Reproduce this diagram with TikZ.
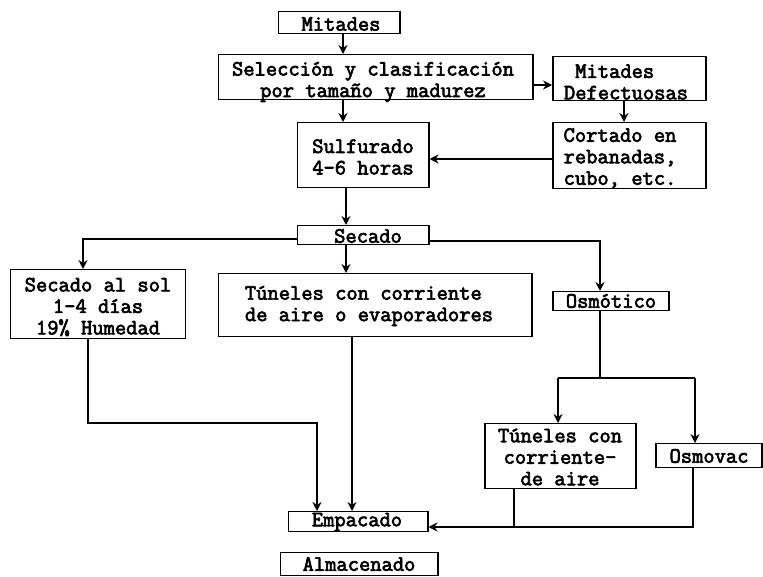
\documentclass[tikz,border=0pt]{standalone}
\usepackage{fontspec}
\newfontfamily\typewriter[FakeBold=3]{Latin Modern Mono}
\usetikzlibrary{arrows.meta}
\begin{document}
\begin{tikzpicture}[x=1bp,y=-1bp,
  box/.style={draw, line width=1.5pt, inner sep=0pt, anchor=north west},
  txt/.style={inner sep=0pt, font=\typewriter\fontsize{21.9bp}{21.5bp}\selectfont, align=center},
  link/.style={line width=2pt},
  flow/.style={link, -{Stealth[length=9bp,width=9bp]}}]
\useasboundingbox (0,0) rectangle (763,577);

% process boxes
\node[box, minimum width=121bp, minimum height=22bp] (mit)  at (278,11)  {};
\node[box, minimum width=314bp, minimum height=45bp] (sel)  at (218,54)  {};
\node[box, minimum width=153bp, minimum height=44bp] (def)  at (552,56)  {};
\node[box, minimum width=153bp, minimum height=66bp] (cor)  at (552,122) {};
\node[box, minimum width=131bp, minimum height=65bp] (sul)  at (297,122) {};
\node[box, minimum width=131bp, minimum height=19bp] (sec)  at (297,225) {};
\node[box, minimum width=175bp, minimum height=69bp] (sol)  at (10,269)  {};
\node[box, minimum width=313bp, minimum height=63bp] (tun)  at (218,273) {};
\node[box, minimum width=116bp, minimum height=19bp] (osm)  at (552,291) {};
\node[box, minimum width=151bp, minimum height=65bp] (tun2) at (484,423) {};
\node[box, minimum width=106bp, minimum height=24bp] (vac)  at (655,443) {};
\node[box, minimum width=139bp, minimum height=20bp] (emp)  at (288,511) {};
\node[box, minimum width=157bp, minimum height=23bp] (alm)  at (280,552) {};

% box texts
\node[txt] (tmit)  at (341,24)  {Mitades};
\node[txt] (tsel)  at (373,82)  {Selección y clasificación\\por tamaño y madurez};
\node[txt, align=left] (tdef) at (626,82) {\hphantom{D}Mitades\\Defectuosas};
\node[txt, align=left] (tcor) at (620,158) {Cortado en\\rebanadas,\\cubo, etc.};
\node[txt] (tsul)  at (363,157) {Sulfurado\\4-6 horas};
\node[txt] (tsec)  at (368,236) {Secado};
\node[txt] (tsol)  at (98,307)  {Secado al sol\\1-4 días\\19\% Humedad};
\node[txt, align=left] (ttun) at (369,306) {Túneles con corriente\\de aire o evaporadores};
\node[txt] (tosm)  at (611,301) {Osmótico};
\node[txt] (ttun2) at (560,457) {Túneles con\\corriente-\\de aire};
\node[txt] (tvac)  at (709,456) {Osmovac};
\node[txt] (temp)  at (357,522) {Empacado};
\node[txt] (talm)  at (359,564) {Almacenado};

% connector columns and rows
\coordinate (x83)  at (83,0);
\coordinate (x88)  at (88,0);
\coordinate (x317) at (317,0);
\coordinate (x343) at (343,0);
\coordinate (x346) at (346,0);
\coordinate (x352) at (352,0);
\coordinate (x514) at (514,0);
\coordinate (x558) at (558,0);
\coordinate (x600) at (600,0);
\coordinate (x624) at (624,0);
\coordinate (x693) at (693,0);
\coordinate (x695) at (695,0);
\coordinate (y85)  at (0,85);
\coordinate (y159) at (0,159);
\coordinate (y239) at (0,239);
\coordinate (y241) at (0,241);
\coordinate (y378) at (0,378);
\coordinate (y423) at (0,423);
\coordinate (y527) at (0,527);

% connectors
\draw[flow] (mit.south -| x343) -- (sel.north -| x343);
\draw[flow] (sel.south -| x343) -- (sul.north -| x343);
\draw[flow] (sel.east |- y85) -- (def.west |- y85);
\draw[flow] (def.south -| x624) -- (cor.north -| x624);
\draw[flow] (cor.west |- y159) -- (sul.east |- y159);
\draw[flow] (sul.south -| x346) -- (sec.north -| x346);
\draw[flow] (sec.west |- y239) -| (sol.north -| x83);
\draw[flow] (sec.south -| x346) -- (tun.north -| x346);
\draw[flow] (sec.east |- y241) -| (osm.north -| x600);
\draw[link] (osm.south -| x600) -- (x600 |- y378);
\draw[link] (x558 |- y378) -- (x695 |- y378);
\draw[flow] (x558 |- y378) -- (tun2.north -| x558);
\draw[flow] (x695 |- y378) -- (vac.north -| x695);
\draw[flow] (sol.south -| x88) -- (x88 |- y423) -- (x317 |- y423) -- (emp.north -| x317);
\draw[flow] (tun.south -| x352) -- (emp.north -| x352);
\draw[link] (tun2.south -| x514) -- (x514 |- y527);
\draw[flow] (vac.south -| x693) -- (x693 |- y527) -- (emp.east |- y527);
\end{tikzpicture}
\end{document}
